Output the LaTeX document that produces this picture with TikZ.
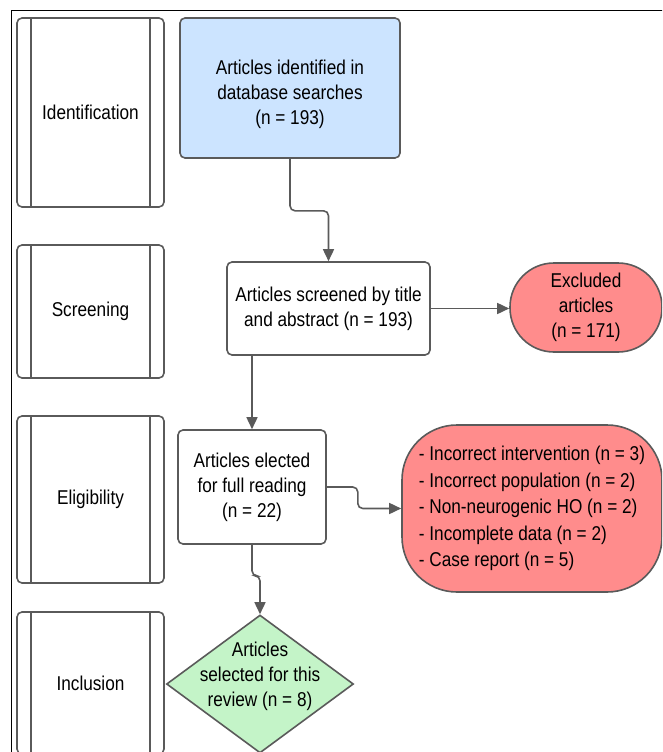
\documentclass[tikz,border=0pt]{standalone}
\usepackage{fontspec}
\setmainfont{Liberation Sans}[FakeStretch=0.86]
\usetikzlibrary{arrows.meta,shapes.geometric}
\definecolor{FlowGrey}{HTML}{5A5A5A}
\definecolor{FlowBlue}{HTML}{CCE4FF}
\definecolor{FlowRed}{HTML}{FF8C8C}
\definecolor{FlowGreen}{HTML}{C4F4C8}

\begin{document}
\begin{tikzpicture}[x=1pt, y=-1pt,
    every node/.style={font=\fontsize{20}{25}\selectfont},
    stagebox/.style={draw=FlowGrey, line width=1.6pt, rounded corners=5pt, minimum width=147pt},
    flowbox/.style={draw=FlowGrey, line width=1.6pt, rounded corners=5pt, align=center, inner sep=0pt},
    flowarrow/.style={draw=FlowGrey, line width=1.6pt, rounded corners=5pt, -{Triangle[length=12pt,width=11pt]}}]
    \clip (0,0) rectangle (662,752);
    % Rahmen
    \draw[black, line width=1pt] (11,800) -- (11,11) -- (700,11);

    % Phasen links
    \node[stagebox, minimum height=189pt] (ident) at (90.5,112.5) {Identification};
    \node[stagebox, minimum height=133pt] (screen) at (90.5,311.5) {Screening};
    \node[stagebox, minimum height=167pt] (elig) at (90.5,499.5) {Eligibility};
    \node[stagebox, minimum height=142pt] (incl) at (90.5,683) {Inclusion};
    \foreach \s in {ident,screen,elig,incl} {
      \draw[FlowGrey, line width=1.6pt] ([xshift=15pt]\s.north west) -- ([xshift=15pt]\s.south west);
      \draw[FlowGrey, line width=1.6pt] ([xshift=-15pt]\s.north east) -- ([xshift=-15pt]\s.south east);
    }

    % Kaesten
    \node[flowbox, fill=FlowBlue, minimum width=220pt, minimum height=140pt] (found) at (290,88)
      {\rule{0pt}{28pt}Articles identified in\\database searches\\(n = 193)};
    \node[flowbox, fill=white, minimum width=203pt, minimum height=93pt] (screened) at (328.5,308.5)
      {Articles screened by title\\and abstract (n = 193)};
    \node[flowbox, fill=FlowRed, rounded corners=44pt, minimum width=152pt, minimum height=89pt] (excl) at (586,307.5)
      {Excluded\\articles\\(n = 171)};
    \node[flowbox, fill=white, minimum width=148pt, minimum height=114pt] (elected) at (252,487)
      {Articles elected\\for full reading\\(n = 22)};
    \node[flowbox, fill=FlowRed, rounded corners=55pt, minimum width=260pt, minimum height=167pt, align=left,
      font=\fontsize{20}{26.5}\selectfont] (exclfull) at (532,508.5)
      {- Incorrect intervention (n = 3)\\- Incorrect population (n = 2)\\- Non-neurogenic HO (n = 2)\\- Incomplete data (n = 2)\\- Case report (n = 5)};
    \node[diamond, draw=FlowGrey, line width=1.6pt, fill=FlowGreen, minimum width=187pt, minimum height=138pt, inner sep=0pt] (seldia) at (260,684) {};
    \node[align=center, inner sep=0pt] (sel) at (260,676) {Articles\\selected for this\\review (n = 8)};

    % Pfeile
    \draw[flowarrow] (found.south) -- ++(0,52) -| (screened.north);
    \draw[flowarrow] (screened.east) -- (screened.east -| excl.west);
    \draw[flowarrow] (screened.south -| elected.north) -- (elected.north);
    \draw[flowarrow] (elected.east) -- ++(31,0) |- (exclfull.west);
    \draw[flowarrow] (elected.south) -- ++(0,31) -| (seldia.north);
  \end{tikzpicture}
\end{document}
